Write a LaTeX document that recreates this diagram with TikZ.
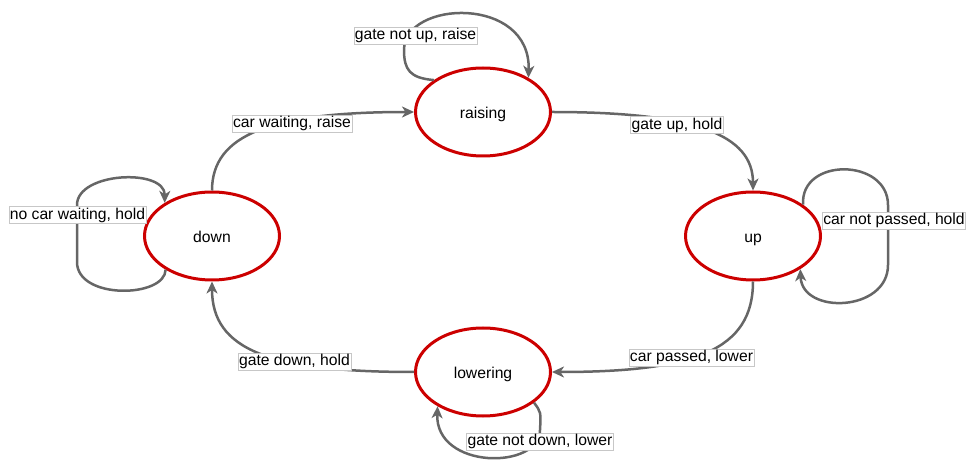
\documentclass[tikz,border=0pt]{standalone}
\usepackage{fontspec}
\setmainfont{Liberation Sans}
\usetikzlibrary{shapes.geometric,arrows.meta}
\definecolor{stred}{HTML}{CC0000}
\definecolor{edgegray}{HTML}{666666}
\begin{document}
\begin{tikzpicture}[x=1pt,y=-1pt,
  state/.style={ellipse,draw=stred,line width=3pt,minimum width=135pt,minimum height=88pt,inner sep=0pt,text height=14.3pt,text depth=0.3pt,font=\fontsize{15.7}{18}\selectfont},
  edge/.style={draw=edgegray,line width=2.5pt,-{Stealth[length=12pt,width=11pt,inset=3.5pt]}},
  lbl/.style={fill=white,draw=black!22,line width=0.6pt,inner xsep=1pt,inner ysep=1.2pt,font=\fontsize{15.7}{18}\selectfont}]
\useasboundingbox (0,0) rectangle (967,462);
% states
\node[state] (raising) at (483,112) {raising};
\node[state] (down) at (212,236) {down};
\node[state] (up) at (753,236) {up};
\node[state] (lowering) at (483,372) {lowering};
% transitions
\draw[edge] (down.north) .. controls (212,135) and (270,112) .. (raising.west);
\draw[edge] (raising.east) .. controls (696,112) and (753,135) .. (up.north);
\draw[edge] (up.south) .. controls (753,350) and (695,372) .. (lowering.east);
\draw[edge] (lowering.west) .. controls (270,372) and (212,350) .. (down.south);
% self loops
\draw[edge] (raising.147) .. controls (410,78) and (404,70) .. (404,50)
  .. controls (404,0) and (531,-5) .. (raising.37);
\draw[edge] (down.216) .. controls (165,298) and (77,300) .. (77,262) -- (77,205)
  .. controls (77,172) and (165,168) .. (down.145);
\draw[edge] (up.32) .. controls (800,157) and (888,158) .. (888,205) -- (888,265)
  .. controls (888,312) and (802,315) .. (up.325);
\draw[edge] (lowering.329) .. controls (541,412) .. (540,430)
  .. controls (540,470) and (435,470) .. (lowering.217);
% labels
\node[lbl] (l1) at (415.5,35.5) {gate not up, raise};
\node[lbl] (l2) at (292,123.5) {car waiting, raise};
\node[lbl] (l3) at (677,125) {gate up, hold};
\node[lbl] (l4) at (77.5,215) {no car waiting, hold};
\node[lbl] (l5) at (894,220.5) {car not passed, hold};
\node[lbl] (l6) at (691.5,357.5) {car passed, lower};
\node[lbl] (l7) at (294.5,361.5) {gate down, hold};
\node[lbl] (l8) at (540,441.5) {gate not down, lower};
\end{tikzpicture}
\end{document}
